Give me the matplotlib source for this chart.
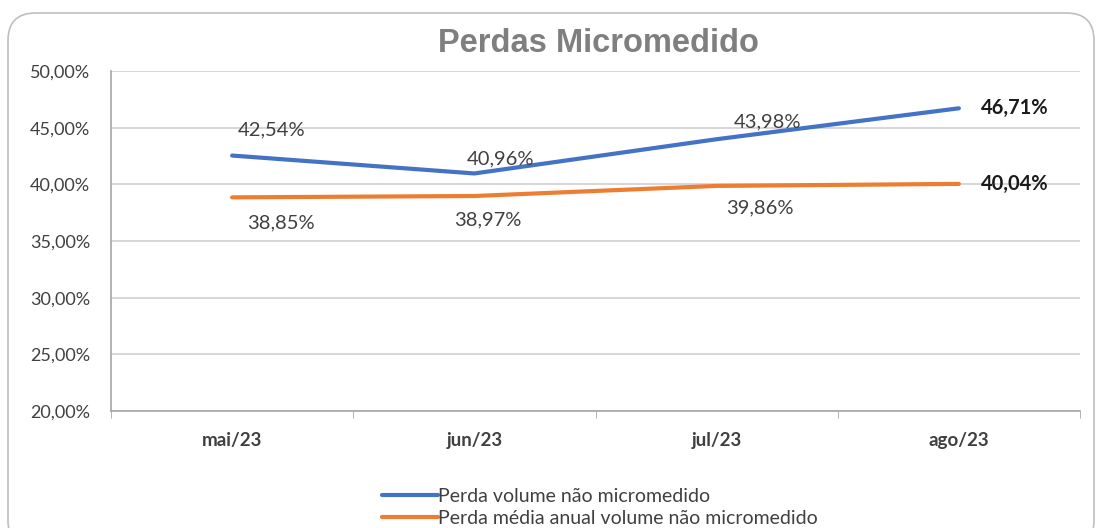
import matplotlib
matplotlib.use('Agg')
import matplotlib.pyplot as plt
from matplotlib.patches import FancyBboxPatch

plt.rcParams['font.family'] = ['Lato', 'DejaVu Sans']

# dados
meses = ["mai/23", "jun/23", "jul/23", "ago/23"]
perda_mensal = [42.54, 40.96, 43.98, 46.71]
perda_media = [38.85, 38.97, 39.86, 40.04]
nome_mensal = "Perda volume não micromedido"
nome_media = "Perda média anual volume não micromedido"

# deslocamento dos rótulos (pixels)
desl_mensal = [(39, 26), (26, 15), (51, 17), (22, 0)]
desl_media = [(49, -26), (13, -24), (43, -22), (22, 0)]

AZUL = "#4472C4"
LARANJA = "#ED7D31"
TXT = "#404040"


def fmt(v):
    return f"{v:.2f}".replace(".", ",") + "%"


fig = plt.figure(figsize=(11.01, 5.28), dpi=100)
W, H = 1101, 528

# moldura arredondada
moldura = FancyBboxPatch((8 / W, -20 / H), 1086 / W, 535 / H,
                         boxstyle="round,pad=0,rounding_size=0.025",
                         transform=fig.transFigure, fill=False,
                         edgecolor="#bfbfbf", linewidth=1.2,
                         mutation_aspect=W / H)
fig.patches.append(moldura)

ax = fig.add_axes([111 / W, 1 - 411 / H, 969 / W, 340 / H])

x = list(range(len(meses)))
ax.plot(x, perda_mensal, color=AZUL, linewidth=3, solid_capstyle='round',
        label=nome_mensal, zorder=3)
ax.plot(x, perda_media, color=LARANJA, linewidth=3, solid_capstyle='round',
        label=nome_media, zorder=3)

for i, v in enumerate(perda_mensal):
    ult = i == len(meses) - 1
    ax.annotate(fmt(v), (i, v), xytext=desl_mensal[i], textcoords='offset pixels',
                ha='left' if ult else 'center', va='center', fontsize=14.5,
                color="#1a1a1a" if ult else TXT,
                fontweight='bold' if ult else 'normal', zorder=4)
for i, v in enumerate(perda_media):
    ult = i == len(meses) - 1
    ax.annotate(fmt(v), (i, v), xytext=desl_media[i], textcoords='offset pixels',
                ha='left' if ult else 'center', va='center', fontsize=14.5,
                color="#1a1a1a" if ult else TXT,
                fontweight='bold' if ult else 'normal', zorder=4)

ax.set_xlim(-0.5, len(meses) - 0.5)
ax.set_ylim(20, 50)
ax.set_yticks(range(20, 51, 5))
ax.set_yticklabels([f"{v},00%" for v in range(20, 51, 5)], fontsize=13, color=TXT)
ax.tick_params(axis='y', length=0, pad=15)

ax.set_xticks(x)
ax.set_xticklabels(meses, fontsize=13.5, fontweight='bold', color=TXT)
ax.set_xticks([i + 0.5 for i in range(-1, len(meses))], minor=True)
ax.tick_params(axis='x', which='major', length=0, pad=15)
ax.tick_params(axis='x', which='minor', length=5, color="#a6a6a6")

ax.grid(axis='y', color="#d0d0d0", linewidth=1.2, zorder=0)
for s in ['top', 'right']:
    ax.spines[s].set_visible(False)
ax.spines['left'].set_color("#a6a6a6")
ax.spines['bottom'].set_color("#a6a6a6")
ax.spines['left'].set_linewidth(1.2)
ax.spines['bottom'].set_linewidth(1.2)

fig.text(598 / W, 1 - 43 / H, "Perdas Micromedido", ha='center', va='center',
         fontsize=23.5, fontweight='bold', color="#7f7f7f",
         family=['Liberation Sans', 'DejaVu Sans'])

fig.legend(loc='upper left', bbox_to_anchor=(372 / W, 1 - 478 / H),
           frameon=False, fontsize=14, handlelength=2.9, handletextpad=0.0,
           labelspacing=0.25, borderpad=0, labelcolor=TXT)

plt.savefig("out.png", dpi=100)
